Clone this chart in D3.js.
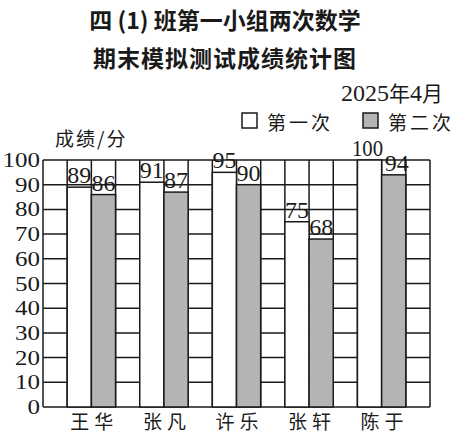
<!DOCTYPE html>
<html>
<head>
<meta charset="UTF-8">
<script src="https://d3js.org/d3.v7.min.js"></script>
<style>
  body { margin: 0; background: #fff; }
  svg { display: block; }
</style>
</head>
<body>
<svg width="471" height="442"></svg>
<script>
// chart data
const students = ["王华", "张凡", "许乐", "张轩", "陈于"];
const firstScores = [89, 91, 95, 75, 100];
const secondScores = [86, 87, 90, 68, 94];
const yTicks = [0, 10, 20, 30, 40, 50, 60, 70, 80, 90, 100];
const seriesNames = ["第一次", "第二次"];

const svg = d3.select("svg");
const serif = "'Liberation Serif', 'DejaVu Serif', serif";
const cjk = "'Noto Sans CJK SC', sans-serif";
const ink = "#1a1a1a";
const gray = "#b4b4b4";

// 16 columns: blank, first, second, blank, first, second ... blank
const nCols = students.length * 3 + 1;
const x = d3.scaleLinear().domain([0, nCols]).range([43, 430]);
const y = d3.scaleLinear().domain([0, 100]).range([407, 160]);

// titles
svg.append("text").attr("x", 225).attr("y", 29)
  .attr("text-anchor", "middle").attr("font-family", cjk)
  .attr("font-weight", 700).attr("font-size", 23).attr("fill", ink)
  .text("四 (1) 班第一小组两次数学");
svg.append("text").attr("x", 225).attr("y", 67)
  .attr("text-anchor", "middle").attr("font-family", cjk)
  .attr("font-weight", 700).attr("font-size", 23).attr("letter-spacing", 1).attr("fill", ink)
  .text("期末模拟测试成绩统计图");

// date
const date = svg.append("text").attr("x", 443).attr("y", 101)
  .attr("text-anchor", "end").attr("font-family", serif)
  .attr("font-size", 24).attr("fill", ink);
date.append("tspan").text("2025");
date.append("tspan").attr("font-family", cjk).attr("font-size", 21).text("年");
date.append("tspan").text("4");
date.append("tspan").attr("font-family", cjk).attr("font-size", 21).text("月");

// legend
const legend = svg.append("g");
[[242, "#fff"], [363, gray]].forEach((d, i) => {
  legend.append("rect").attr("x", d[0]).attr("y", 113).attr("width", 15).attr("height", 15)
    .attr("fill", d[1]).attr("stroke", ink).attr("stroke-width", 1.5);
  legend.append("text").attr("x", d[0] + 25).attr("y", 130)
    .attr("font-family", cjk).attr("font-size", 19).attr("letter-spacing", 3)
    .attr("fill", ink).text(seriesNames[i]);
});

// y unit
svg.append("text").attr("x", 55).attr("y", 146)
  .attr("font-family", cjk).attr("font-size", 19).attr("letter-spacing", 2)
  .attr("fill", ink).text("成绩/分");

// grid
const grid = svg.append("g").attr("stroke", ink).attr("stroke-width", 1.5);
grid.selectAll("line.h").data(yTicks).join("line")
  .attr("x1", x(0)).attr("x2", x(nCols))
  .attr("y1", d => y(d)).attr("y2", d => y(d));
grid.selectAll("line.v").data(d3.range(nCols + 1)).join("line")
  .attr("y1", y(0)).attr("y2", y(100))
  .attr("x1", d => x(d)).attr("x2", d => x(d));

// y tick labels
svg.append("g").selectAll("text").data(yTicks).join("text")
  .attr("x", 40).attr("y", d => y(d) + 7)
  .attr("text-anchor", "end").attr("font-family", serif)
  .attr("font-size", 22).attr("fill", ink)
  .attr("textLength", d => String(d).length * 12.5)
  .attr("lengthAdjust", "spacingAndGlyphs")
  .text(d => d);

// bars
const bars = [];
students.forEach((s, i) => {
  bars.push({ col: i * 3 + 1, v: firstScores[i], fill: "#fff" });
  bars.push({ col: i * 3 + 2, v: secondScores[i], fill: gray });
});
svg.append("g").selectAll("rect").data(bars).join("rect")
  .attr("x", d => x(d.col)).attr("width", x(1) - x(0))
  .attr("y", d => y(d.v)).attr("height", d => y(0) - y(d.v))
  .attr("fill", d => d.fill).attr("stroke", ink).attr("stroke-width", 1.5);

// value labels (a three-digit label is squeezed, and its neighbour nudged right)
const isWide = d => String(d.v).length > 2;
svg.append("g").selectAll("text").data(bars).join("text")
  .attr("x", (d, i) => x(d.col + 0.5)
    + (isWide(d) ? -2 : 0)
    + (i % 2 === 1 && isWide(bars[i - 1]) ? 3 : 0))
  .attr("y", d => y(d.v) - 4)
  .attr("text-anchor", "middle").attr("font-family", serif)
  .attr("font-size", 24).attr("fill", ink)
  .each(function (d) {
    if (isWide(d)) d3.select(this).attr("textLength", 31).attr("lengthAdjust", "spacingAndGlyphs");
  })
  .text(d => d.v);

// categories
svg.append("g").selectAll("text").data(students).join("text")
  .attr("x", (d, i) => x(i * 3 + 2) + 3).attr("y", 429)
  .attr("text-anchor", "middle").attr("font-family", cjk)
  .attr("font-size", 19).attr("letter-spacing", 5).attr("fill", ink)
  .text(d => d);
</script>
</body>
</html>
